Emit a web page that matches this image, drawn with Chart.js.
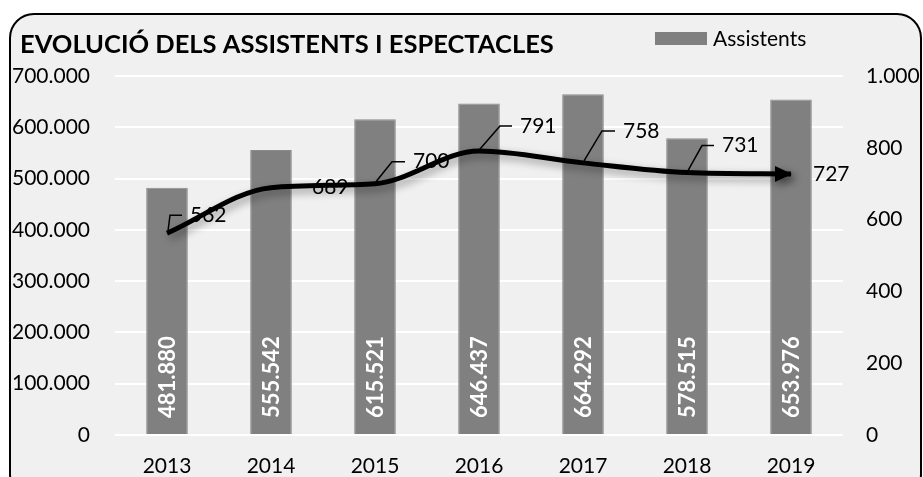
<!DOCTYPE html>
<html>
<head>
<meta charset="utf-8">
<script src="https://cdn.jsdelivr.net/npm/chart.js@4.4.1/dist/chart.umd.min.js"></script>
<style>
  html, body { margin: 0; padding: 0; background: #ffffff; }
  #wrap { width: 923px; height: 477px; }
</style>
</head>
<body>
<div id="wrap"><canvas id="c" width="923" height="477"></canvas></div>
<script>
// ---- data ----
const years = ['2013', '2014', '2015', '2016', '2017', '2018', '2019'];
const assistents = [481880, 555542, 615521, 646437, 664292, 578515, 653976];
const espectacles = [562, 689, 700, 791, 758, 731, 727];
const chartTitle = 'EVOLUCIÓ DELS ASSISTENTS I ESPECTACLES';
const barSeriesName = 'Assistents';
const lineSeriesName = 'Espectacles';

// ---- styles / label placement (not data) ----
const FONT = 'Lato, "Open Sans", sans-serif';
const TICK_SIZE = 21;
// [dx, dy, elbowDx] of each line label relative to its point; elbowDx null => no leader
const lineLabelOffsets = [
  [23, -18, 3], [41, 0, null], [38, -22, 17], [41, -25, 21],
  [40, -32, 19], [35, -27, 15], [22, 0, null]
];

function fmt(v) {
  return String(Math.round(v)).replace(/\B(?=(\d{3})+(?!\d))/g, '.');
}

function drawLineLabels(chart) {
  const ctx = chart.ctx;
  const meta = chart.getDatasetMeta(1);
  ctx.save();
  ctx.font = TICK_SIZE + 'px ' + FONT;
  ctx.fillStyle = '#000000';
  ctx.strokeStyle = '#000000';
  ctx.lineWidth = 1.5;
  ctx.textAlign = 'left';
  ctx.textBaseline = 'middle';
  meta.data.forEach((pt, i) => {
    const [dx, dy, ex] = lineLabelOffsets[i];
    const lx = pt.x + dx, ly = pt.y + dy;
    if (ex !== null) {
      ctx.beginPath();
      ctx.moveTo(pt.x + 1, pt.y - 2);
      ctx.lineTo(pt.x + ex, ly);
      ctx.lineTo(lx - 8, ly);
      ctx.stroke();
    }
    ctx.fillText(fmt(espectacles[i]), lx, ly);
  });
  ctx.restore();
}

const framePlugin = {
  id: 'frame',
  beforeDraw(chart) {
    const ctx = chart.ctx;
    ctx.save();
    ctx.fillStyle = '#ffffff';
    ctx.fillRect(0, 0, chart.width, chart.height);
    ctx.beginPath();
    ctx.roundRect(10, 14, 911, 484, 24);
    ctx.fillStyle = '#f0f0f0';
    ctx.fill();
    ctx.lineWidth = 2;
    ctx.strokeStyle = '#000000';
    ctx.stroke();
    // title
    ctx.fillStyle = '#000000';
    ctx.font = 'bold 25.5px ' + FONT;
    ctx.textBaseline = 'middle';
    ctx.textAlign = 'left';
    ctx.fillText(chartTitle, 20, 45);
    // legend
    ctx.fillStyle = '#808080';
    ctx.fillRect(655, 32, 52, 13);
    ctx.fillStyle = '#000000';
    ctx.font = TICK_SIZE + 'px ' + FONT;
    ctx.fillText(barSeriesName, 713, 39);
    ctx.restore();
  },
  beforeDatasetDraw(chart, args) {
    if (args.index === 1) {
      drawLineLabels(chart);
      const ctx = chart.ctx;
      ctx.save();
      ctx.shadowColor = 'rgba(0,0,0,0.4)';
      ctx.shadowBlur = 8;
      ctx.shadowOffsetX = 3;
      ctx.shadowOffsetY = 4;
    }
  },
  afterDatasetDraw(chart, args) {
    const ctx = chart.ctx;
    if (args.index === 1) {
      // arrow head at last point
      const pts = chart.getDatasetMeta(1).data;
      const p = pts[pts.length - 1];
      ctx.beginPath();
      ctx.moveTo(p.x + 1, p.y);
      ctx.lineTo(p.x - 16, p.y - 8);
      ctx.lineTo(p.x - 16, p.y + 8);
      ctx.closePath();
      ctx.fillStyle = '#000000';
      ctx.fill();
      ctx.restore();
    }
    if (args.index === 0) {
      const meta = chart.getDatasetMeta(0);
      ctx.save();
      ctx.fillStyle = '#ffffff';
      ctx.font = 'bold 22px ' + FONT;
      ctx.textAlign = 'left';
      ctx.textBaseline = 'middle';
      meta.data.forEach((bar, i) => {
        ctx.save();
        ctx.translate(bar.x, chart.scales.y.getPixelForValue(0) - 17);
        ctx.rotate(-Math.PI / 2);
        ctx.fillText(fmt(assistents[i]), 0, 1);
        ctx.restore();
      });
      ctx.restore();
    }
  }
};

new Chart(document.getElementById('c'), {
  data: {
    labels: years,
    datasets: [
      {
        type: 'bar',
        label: barSeriesName,
        data: assistents,
        backgroundColor: '#808080',
        borderColor: '#8a8a8a',
        borderWidth: 1,
        barPercentage: 0.4,
        categoryPercentage: 1.0,
        yAxisID: 'y',
        order: 1
      },
      {
        type: 'line',
        label: lineSeriesName,
        data: espectacles,
        borderColor: '#000000',
        borderWidth: 5,
        pointRadius: 0,
        fill: false,
        cubicInterpolationMode: 'monotone',
        yAxisID: 'y1',
        order: 0
      }
    ]
  },
  options: {
    responsive: false,
    animation: false,
    events: [],
    layout: { padding: { top: 76, left: 0, right: 0, bottom: 0 } },
    plugins: {
      legend: { display: false },
      title: { display: false },
      tooltip: { enabled: false }
    },
    scales: {
      x: {
        grid: { display: false, drawTicks: false },
        border: { display: false },
        ticks: { color: '#000000', font: { family: FONT, size: TICK_SIZE }, padding: 19, maxRotation: 0 },
        afterFit(s) { s.height = 42; }
      },
      y: {
        position: 'left',
        min: 0, max: 700000,
        grid: { color: '#ffffff', lineWidth: 2, drawTicks: false },
        border: { display: false },
        ticks: { stepSize: 100000, color: '#000000', font: { family: FONT, size: TICK_SIZE }, padding: 25, callback: v => fmt(v) },
        afterFit(s) { s.width = 115; }
      },
      y1: {
        position: 'right',
        min: 0, max: 1000,
        grid: { display: false, drawTicks: false },
        border: { display: false },
        ticks: { stepSize: 200, color: '#000000', font: { family: FONT, size: TICK_SIZE }, padding: 23, callback: v => fmt(v) },
        afterFit(s) { s.width = 80; }
      }
    }
  },
  plugins: [framePlugin]
});
</script>
</body>
</html>
